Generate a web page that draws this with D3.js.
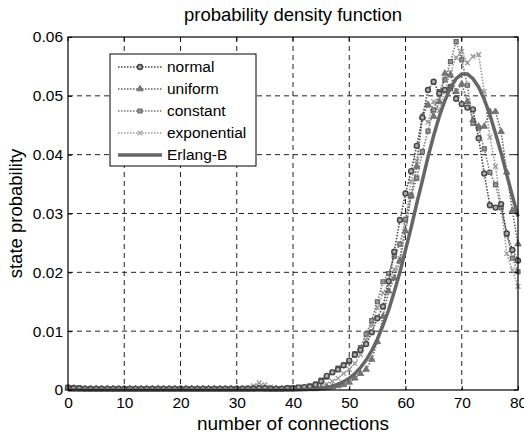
<!DOCTYPE html>
<html><head><meta charset="utf-8">
<script src="https://cdn.jsdelivr.net/npm/d3@7"></script>
<style>body{margin:0;background:#fff}svg{display:block}text{font-family:"Liberation Sans",Arial,sans-serif}</style>
</head><body>
<svg id="c" width="524" height="435"></svg>
<script>
const xs = [0,1,2,3,4,5,6,7,8,9,10,11,12,13,14,15,16,17,18,19,20,21,22,23,24,25,26,27,28,29,30,31,32,33,34,35,36,37,38,39,40,41,42,43,44,45,46,47,48,49,50,51,52,53,54,55,56,57,58,59,60,61,62,63,64,65,66,67,68,69,70,71,72,73,74,75,76,77,78,79,80];
const normal = [0.0004,0.0003,0.0003,0.0002,0.0002,0.0002,0.0002,0.0002,0.0002,0.0002,
0.0002,0.0002,0.0002,0.0002,0.0002,0.0002,0.0002,0.0002,0.0002,0.0002,
0.0002,0.0002,0.0002,0.0002,0.0002,0.0002,0.0002,0.0002,0.0002,0.0002,
0.0002,0.0002,0.0002,0.0002,0.0003,0.0003,0.0002,0.0002,0.0002,0.0003,
0.0003,0.0004,0.0005,0.0006,0.0009,0.0015,0.0024,0.0030,0.0035,0.0042,
0.0050,0.0060,0.0068,0.0078,0.0098,0.0122,0.0142,0.0185,0.0235,0.0289,
0.0334,0.0372,0.0415,0.0463,0.0510,0.0524,0.0504,0.0510,0.0515,0.0495,
0.0486,0.0480,0.0477,0.0428,0.0368,0.0314,0.0310,0.0316,0.0266,0.0238,0.0220];
const uniform = [0.0003,0.0003,0.0002,0.0002,0.0002,0.0002,0.0002,0.0002,0.0002,0.0002,
0.0002,0.0002,0.0002,0.0002,0.0002,0.0002,0.0002,0.0002,0.0002,0.0002,
0.0002,0.0002,0.0002,0.0002,0.0002,0.0002,0.0002,0.0002,0.0002,0.0002,
0.0002,0.0002,0.0002,0.0002,0.0002,0.0002,0.0002,0.0002,0.0002,0.0002,
0.0002,0.0002,0.0002,0.0002,0.0002,0.0003,0.0004,0.0005,0.0007,0.0009,
0.0013,0.0020,0.0028,0.0035,0.0052,0.0082,0.0125,0.0168,0.0190,0.0220,
0.0270,0.0330,0.0380,0.0465,0.0485,0.0465,0.0490,0.0538,0.0535,0.0507,
0.0520,0.0490,0.0459,0.0448,0.0448,0.0473,0.0473,0.0439,0.0370,0.0305,0.0248];
const constant = [0.0004,0.0003,0.0003,0.0002,0.0002,0.0002,0.0002,0.0002,0.0002,0.0002,
0.0002,0.0002,0.0002,0.0002,0.0002,0.0002,0.0002,0.0002,0.0002,0.0002,
0.0002,0.0002,0.0002,0.0002,0.0002,0.0002,0.0002,0.0002,0.0002,0.0002,
0.0002,0.0002,0.0002,0.0003,0.0003,0.0002,0.0002,0.0002,0.0002,0.0003,
0.0003,0.0003,0.0004,0.0006,0.0010,0.0017,0.0022,0.0030,0.0037,0.0042,
0.0048,0.0062,0.0072,0.0095,0.0118,0.0150,0.0184,0.0198,0.0227,0.0248,
0.0290,0.0330,0.0360,0.0405,0.0440,0.0476,0.0507,0.0527,0.0558,0.0592,
0.0561,0.0518,0.0453,0.0445,0.0410,0.0370,0.0349,0.0310,0.0265,0.0224,0.0201];
const exponential = [0.0005,0.0004,0.0003,0.0003,0.0003,0.0002,0.0002,0.0002,0.0002,0.0002,
0.0002,0.0002,0.0002,0.0002,0.0002,0.0002,0.0002,0.0002,0.0002,0.0002,
0.0002,0.0002,0.0002,0.0002,0.0002,0.0002,0.0002,0.0002,0.0002,0.0003,
0.0003,0.0003,0.0004,0.0007,0.0012,0.0009,0.0005,0.0003,0.0003,0.0003,
0.0004,0.0006,0.0005,0.0007,0.0006,0.0008,0.0010,0.0015,0.0020,0.0028,
0.0035,0.0045,0.0060,0.0085,0.0110,0.0140,0.0165,0.0180,0.0205,0.0224,
0.0286,0.0355,0.0390,0.0465,0.0455,0.0490,0.0475,0.0510,0.0540,0.0565,
0.0575,0.0556,0.0567,0.0570,0.0507,0.0430,0.0380,0.0310,0.0232,0.0204,0.0176];
const erlangB = [0,0,0,0,0,0,0,0,0,0,
0,0,0,0,0,0,0,0,0,0,
0,0,0,0,0,0,0,0,0,0,
0,0,0,0,0,0,0,0,0,0,
0.00002,0.00004,0.00007,0.00011,0.00018,0.00029,0.00044,0.00066,0.00097,0.00141,
0.00199,0.00278,0.00380,0.00508,0.00669,0.00863,0.0110,0.0136,0.0167,0.0200,
0.0238,0.0276,0.0317,0.0356,0.0396,0.0432,0.0465,0.0492,0.0514,0.0529,
0.0537,0.0537,0.0529,0.0515,0.0494,0.0468,0.0436,0.0403,0.0366,0.0330,0.0295];
const xTicks = [0,10,20,30,40,50,60,70,80];
const yTicks = [0,0.01,0.02,0.03,0.04,0.05,0.06];
const yTickLabels = ["0","0.01","0.02","0.03","0.04","0.05","0.06"];
const seriesNames = ["normal","uniform","constant","exponential","Erlang-B"];

const svg = d3.select("#c");
const L=68, R=518, T=37, B=390;
const x = d3.scaleLinear().domain([0,80]).range([L,R]);
const y = d3.scaleLinear().domain([0,0.06]).range([B,T]);

// grid
const g = svg.append("g");
g.selectAll(".vg").data(xTicks.slice(1,-1)).join("line")
 .attr("x1",d=>x(d)).attr("x2",d=>x(d)).attr("y1",T).attr("y2",B)
 .attr("stroke","#222").attr("stroke-width",1).attr("stroke-dasharray","5,4");
g.selectAll(".hg").data(yTicks.slice(1,-1)).join("line")
 .attr("y1",d=>y(d)).attr("y2",d=>y(d)).attr("x1",L).attr("x2",R)
 .attr("stroke","#222").attr("stroke-width",1).attr("stroke-dasharray","5,4");

const styles = {
 normal:{line:"#444", marker:"circle", stroke:"#444", fill:"#aaa"},
 uniform:{line:"#666", marker:"triangle", stroke:"#666", fill:"#777"},
 constant:{line:"#777", marker:"square", stroke:"#666", fill:"#999"},
 exponential:{line:"#999", marker:"cross", stroke:"#999", fill:"none"}
};
const data = {normal, uniform, constant, exponential};
const line = d3.line().x((d,i)=>x(xs[i])).y(d=>y(d));

function drawMarker(sel, type, st, size){
  if(type==="circle"){
    sel.append("circle").attr("r",size*0.55).attr("fill",st.fill).attr("stroke",st.stroke).attr("stroke-width",1.4);
  } else if(type==="triangle"){
    sel.append("path").attr("d",d3.symbol(d3.symbolTriangle,size*size*0.9)()).attr("fill",st.fill).attr("stroke",st.stroke).attr("stroke-width",0.8);
  } else if(type==="square"){
    sel.append("path").attr("d",d3.symbol(d3.symbolSquare,size*size*0.8)()).attr("fill",st.fill).attr("stroke",st.stroke).attr("stroke-width",1.2);
  } else {
    sel.append("path").attr("d",d3.symbol(d3.symbolX,size*size*0.8)()).attr("fill","none").attr("stroke",st.stroke).attr("stroke-width",1.3);
  }
}

const plot = svg.append("g");
["exponential","constant","uniform","normal"].forEach(name=>{
  const st = styles[name];
  plot.append("path").datum(data[name]).attr("d",line).attr("fill","none")
   .attr("stroke",st.line).attr("stroke-width",1.6).attr("stroke-dasharray","1.5,1.5");
  const m = plot.append("g").selectAll("g").data(data[name]).join("g")
   .attr("transform",(d,i)=>`translate(${x(xs[i])},${y(d)})`);
  m.each(function(){ drawMarker(d3.select(this), st.marker, st, 4.5); });
});
plot.append("path").datum(erlangB).attr("d",line).attr("fill","none")
 .attr("stroke","#666").attr("stroke-width",3.5);

// axes frame
svg.append("rect").attr("x",L).attr("y",T).attr("width",R-L).attr("height",B-T)
 .attr("fill","none").attr("stroke","#000").attr("stroke-width",1.2);
const xa = svg.append("g").attr("transform",`translate(0,${B})`)
 .call(d3.axisBottom(x).tickValues(xTicks).tickSize(-4).tickPadding(7).tickFormat(d3.format("d")));
const ya = svg.append("g").attr("transform",`translate(${L},0)`)
 .call(d3.axisLeft(y).tickValues(yTicks).tickSize(-4).tickPadding(5).tickFormat((d,i)=>yTickLabels[i]));
[xa,ya].forEach(a=>{a.select(".domain").remove();a.selectAll("line").attr("stroke","#000");
 a.selectAll("text").attr("font-size",15.5).attr("fill","#000").style("font-family","Liberation Sans, Arial, sans-serif");});
svg.append("g").selectAll("line").data(xTicks).join("line")
 .attr("x1",d=>x(d)).attr("x2",d=>x(d)).attr("y1",T).attr("y2",T+4).attr("stroke","#000");
svg.append("g").selectAll("line").data(yTicks).join("line")
 .attr("x1",R).attr("x2",R-4).attr("y1",d=>y(d)).attr("y2",d=>y(d)).attr("stroke","#000");

// labels
svg.append("text").attr("x",(L+R)/2).attr("y",21).attr("text-anchor","middle").attr("font-size",18.5).text("probability density function");
svg.append("text").attr("x",(L+R)/2).attr("y",430).attr("text-anchor","middle").attr("font-size",19).text("number of connections");
svg.append("text").attr("transform",`translate(22,${(T+B)/2}) rotate(-90)`).attr("text-anchor","middle").attr("font-size",18.5).text("state probability");

// legend
const lg = svg.append("g");
lg.append("rect").attr("x",110).attr("y",54).attr("width",146).attr("height",112)
 .attr("fill","#fff").attr("stroke","#000").attr("stroke-width",1);
seriesNames.forEach((name,i)=>{
  const yy = 67 + i*22;
  const r = lg.append("g");
  if(name==="Erlang-B"){
    r.append("line").attr("x1",118).attr("x2",162).attr("y1",yy).attr("y2",yy).attr("stroke","#666").attr("stroke-width",3.5);
  } else {
    const st=styles[name];
    r.append("line").attr("x1",118).attr("x2",162).attr("y1",yy).attr("y2",yy).attr("stroke",st.line).attr("stroke-width",1.6).attr("stroke-dasharray","1.5,1.5");
    const mg = r.append("g").attr("transform",`translate(140,${yy})`);
    drawMarker(mg, st.marker, st, 4.5);
  }
  r.append("text").attr("x",167).attr("y",yy+5).attr("font-size",15.5).text(name);
});
</script>
</body></html>
